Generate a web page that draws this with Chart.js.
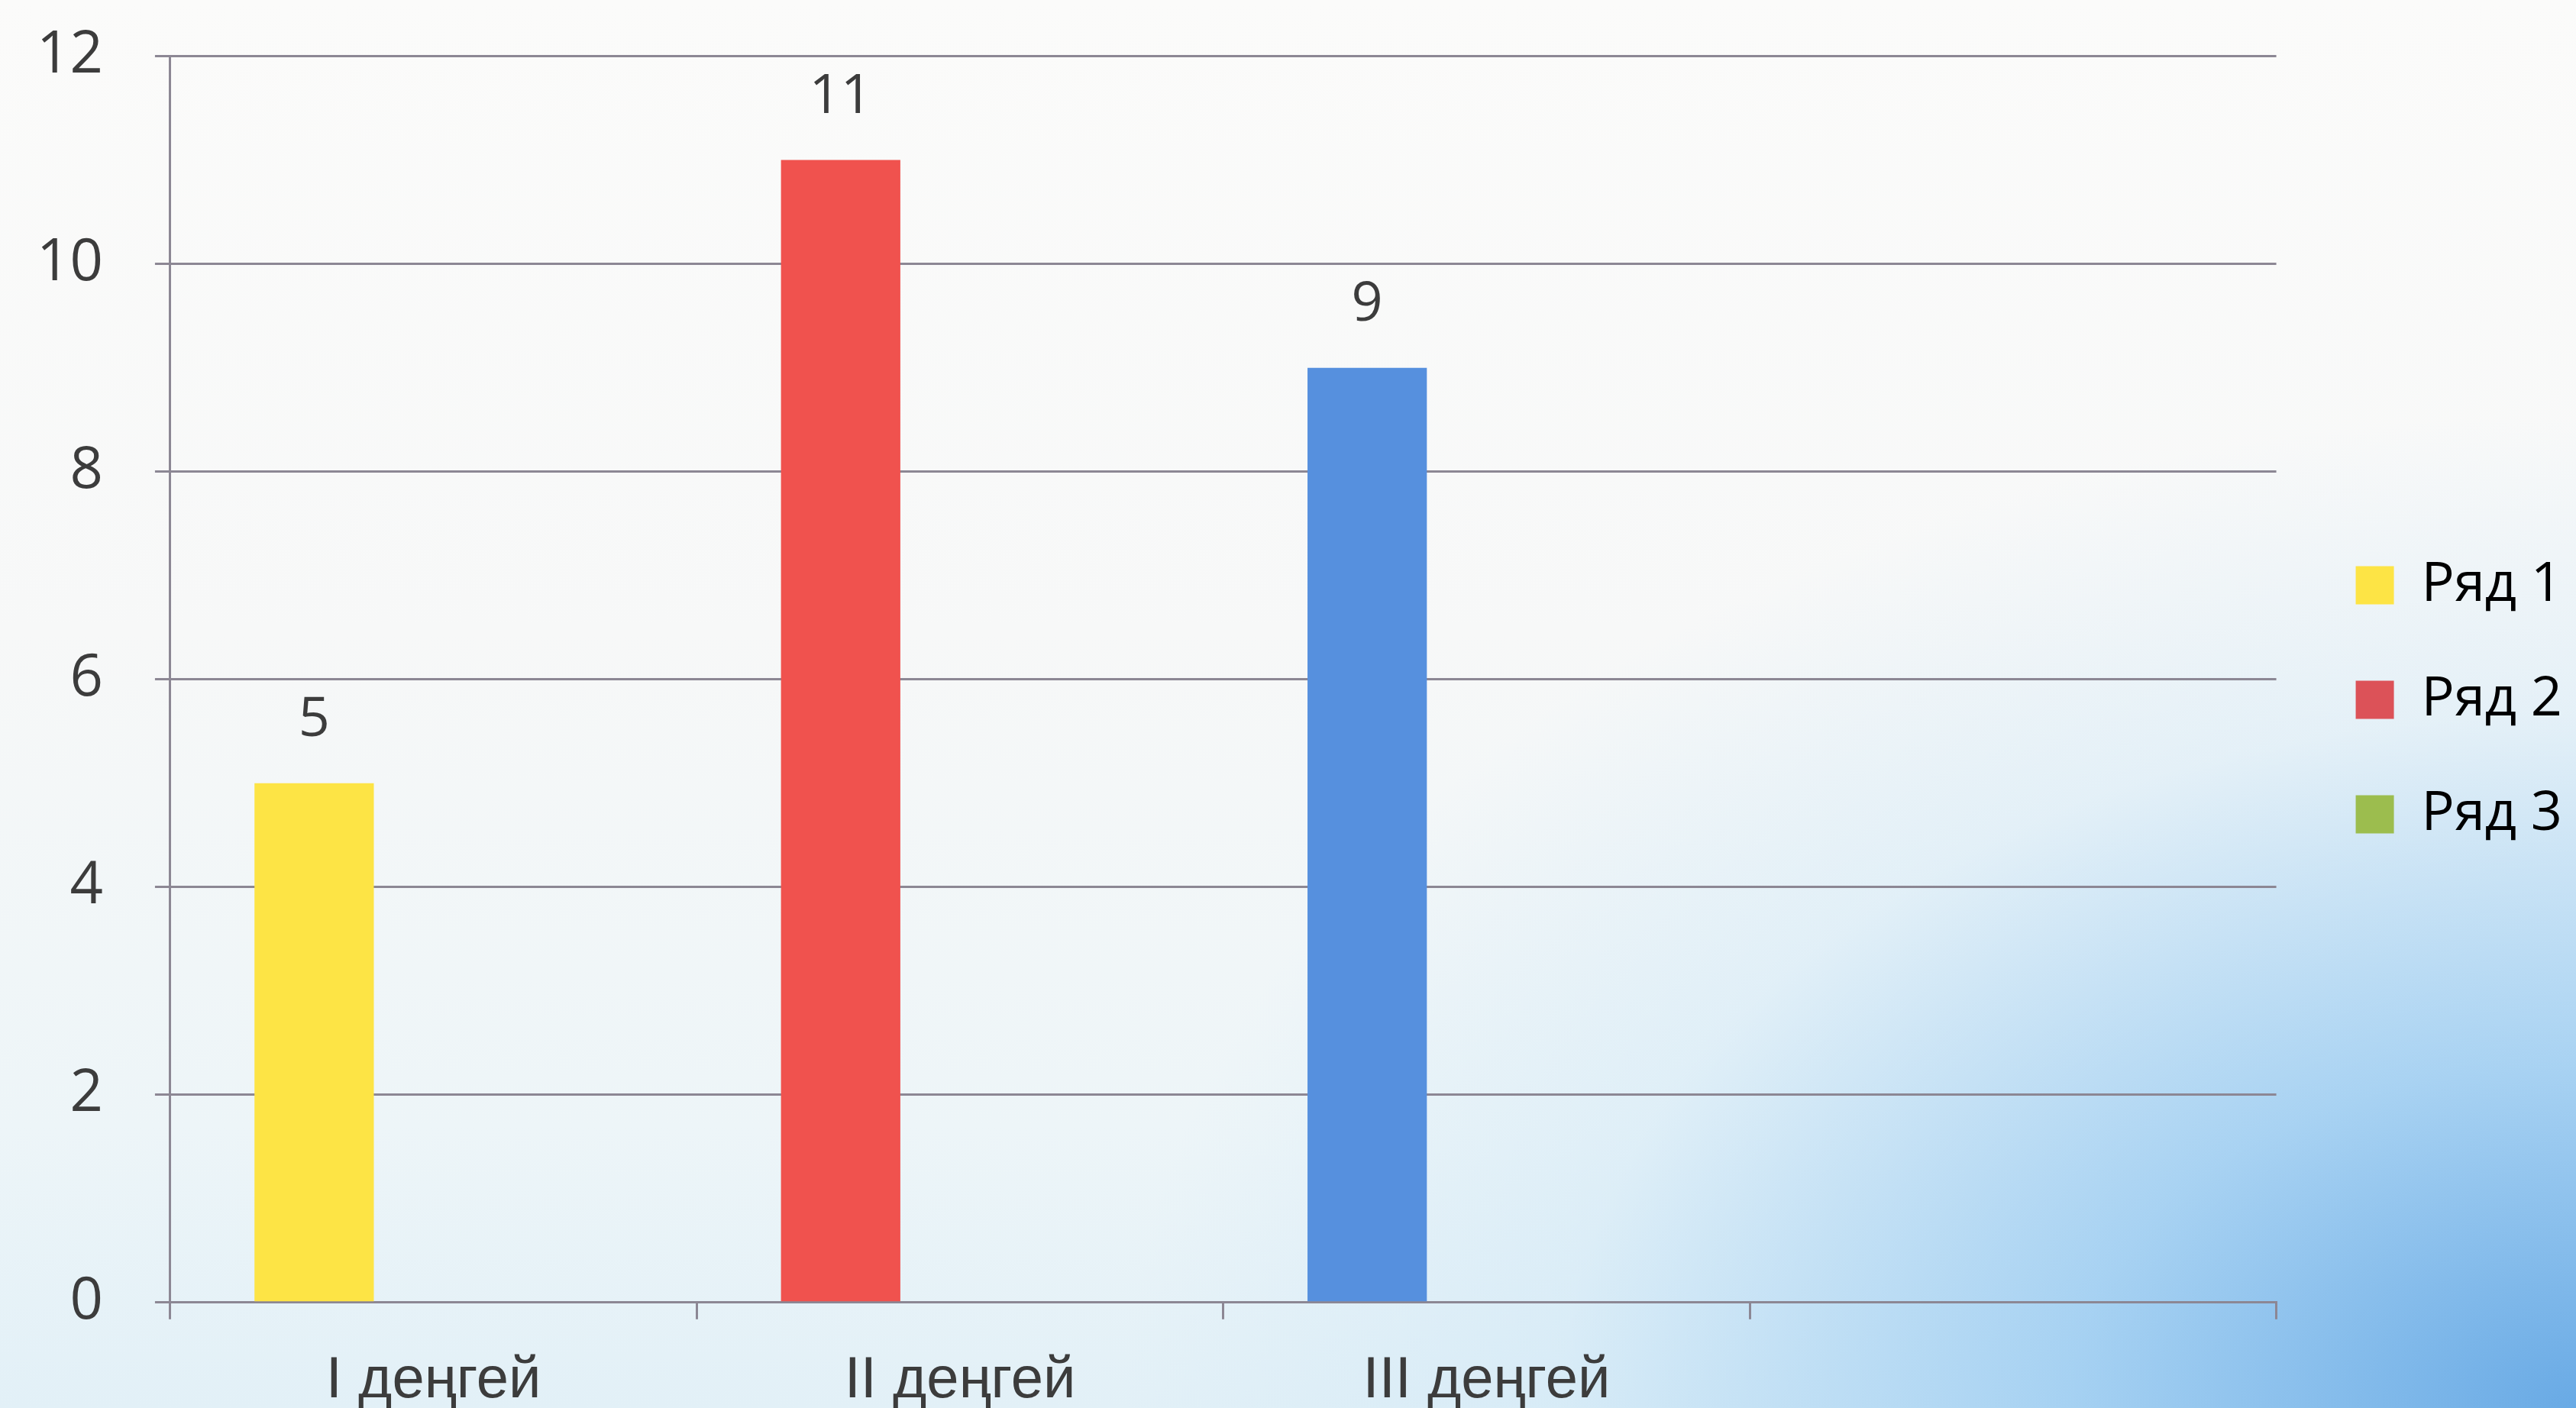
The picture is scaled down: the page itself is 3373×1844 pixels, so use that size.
<!DOCTYPE html>
<html>
<head>
<meta charset="utf-8">
<script src="https://cdn.jsdelivr.net/npm/chart.js@4.4.1/dist/chart.umd.min.js"></script>
<style>
  html, body { margin: 0; padding: 0; }
  body {
    width: 3373px; height: 1844px; overflow: hidden; position: relative;
    background:
      radial-gradient(ellipse 1900px 1300px at 3373px 1844px, rgba(98,166,228,0.95) 0%, rgba(140,196,240,0.7) 35%, rgba(190,224,246,0.3) 70%, rgba(220,238,248,0) 100%),
      linear-gradient(to bottom, #fbfbfa 0%, #f7f8f8 45%, #edf5f8 80%, #e2f0f7 100%);
  }
  /* slightly larger than the window, so the axis labels sit cut at the edges like the photo */
  #wrap { position: absolute; left: -20px; top: -40px; width: 3393px; height: 1931px; }
</style>
</head>
<body>
<div id="wrap"><canvas id="chart"></canvas></div>
<script>
// categories along the x axis (the fourth one is empty in the original)
const categories = ['I деңгей', 'II деңгей', 'III деңгей', '']

// series as shown in the legend
const seriesNames = ['Ряд 1', 'Ряд 2', 'Ряд 3']
const seriesColours = ['#fde445', '#dc5258', '#9cbd4e']

// only the first series carries values, one colour per bar
const row1 = [5, 11, 9, null]
const row1Colours = ['#fde445', '#f0524e', '#5690de']
const row2 = [null, null, null, null]
const row3 = [null, null, null, null]

const yTicks = [0, 2, 4, 6, 8, 10, 12]

const textColour = '#3c3c3c'
const gridColour = '#8c8794'

const valueLabels = {
  id: 'valueLabels',
  afterDatasetsDraw(chart) {
    const ctx = chart.ctx
    ctx.save()
    ctx.font = '72px "Open Sans"'
    ctx.fillStyle = textColour
    ctx.textAlign = 'center'
    ctx.textBaseline = 'bottom'
    chart.data.datasets.forEach((ds, i) => {
      const meta = chart.getDatasetMeta(i)
      meta.data.forEach((bar, j) => {
        if (ds.data[j] == null) return
        ctx.fillText(String(ds.data[j]), bar.x, bar.y - 46)
      })
    })
    ctx.restore()
  },
}

// nudge the legend box a little right and up, as in the original
const legendNudge = {
  id: 'legendNudge',
  afterLayout(chart) {
    const l = chart.legend
    l.left += 26
    l.right += 26
    l.top -= 15
    l.bottom -= 15
  },
}

new Chart(document.getElementById('chart'), {
  type: 'bar',
  data: {
    labels: categories,
    datasets: [
      { label: seriesNames[0], data: row1, backgroundColor: row1Colours },
      { label: seriesNames[1], data: row2, backgroundColor: seriesColours[1] },
      { label: seriesNames[2], data: row3, backgroundColor: seriesColours[2] },
    ],
  },
  options: {
    responsive: true,
    maintainAspectRatio: false,
    animation: false,
    categoryPercentage: 0.68,
    barPercentage: 1,
    layout: { padding: { top: 12, right: 34, bottom: 0, left: 0 } },
    plugins: {
      tooltip: { enabled: false },
      legend: {
        position: 'right',
        align: 'center',
        labels: {
          boxWidth: 50,
          boxHeight: 50,
          padding: 78,
          color: textColour,
          font: { family: 'Open Sans', size: 72 },
          generateLabels: () => seriesNames.map((name, i) => ({
            text: name,
            fillStyle: seriesColours[i],
            strokeStyle: seriesColours[i],
            lineWidth: 0,
            hidden: false,
            datasetIndex: i,
          })),
        },
      },
    },
    scales: {
      x: {
        grid: {
          display: true,
          drawOnChartArea: false,
          drawTicks: true,
          tickLength: 22,
          color: gridColour,
          lineWidth: 3,
          offset: true,
        },
        border: { display: true, color: gridColour, width: 3 },
        ticks: {
          color: textColour,
          font: { family: 'Liberation Sans', size: 76 },
          padding: 36,
          maxRotation: 0,
        },
      },
      y: {
        min: 0,
        max: 12,
        afterBuildTicks: (scale) => { scale.ticks = yTicks.map((v) => ({ value: v })) },
        grid: {
          color: gridColour,
          lineWidth: 3,
          tickLength: 20,
        },
        border: { display: true, color: gridColour, width: 3 },
        ticks: {
          color: textColour,
          font: { family: 'Open Sans', size: 76 },
          padding: 68,
        },
      },
    },
  },
  plugins: [valueLabels, legendNudge],
})
</script>
</body>
</html>
